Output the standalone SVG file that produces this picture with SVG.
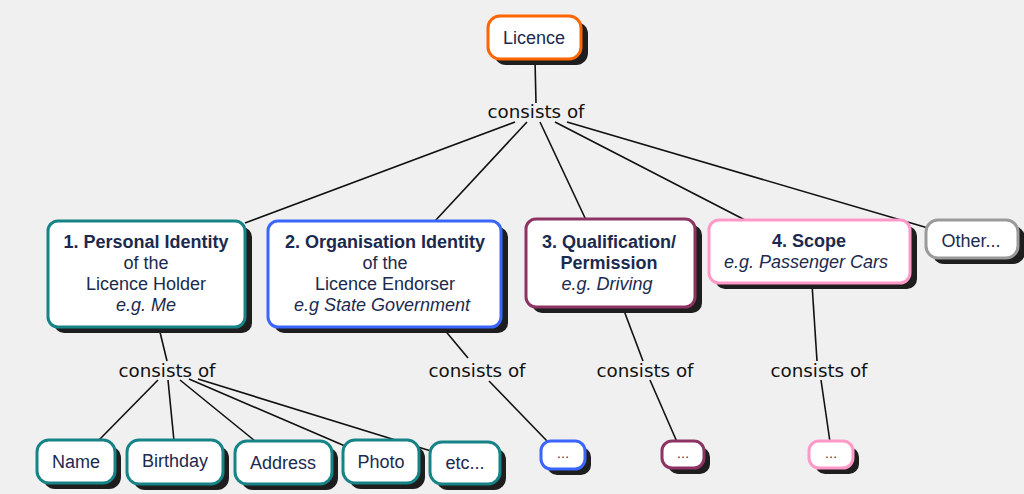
<svg xmlns="http://www.w3.org/2000/svg" width="1024" height="494" viewBox="0 0 1024 494">
<style>
.bg{fill:#f0f0f0}
.sh{fill:#1e1e1e}
.box{fill:#ffffff;stroke-width:3}
.t{font-family:"Liberation Sans",Arial,sans-serif;font-size:18px;fill:#1b2a4e;text-anchor:middle}
.b{font-weight:bold}
.i{font-style:italic}
.lab{font-family:"DejaVu Sans",Verdana,sans-serif;font-size:18.3px;fill:#111;text-anchor:middle}
.ln{stroke:#111;stroke-width:1.6;fill:none}
.dots{font-family:"Liberation Sans",Arial,sans-serif;font-size:13px;fill:#1b2a4e;text-anchor:middle}
</style>
<rect class="bg" x="0" y="0" width="1024" height="494"/>
<g id="connectors">
<line class="ln" x1="535" y1="60" x2="536" y2="103"/>
<line class="ln" x1="515" y1="122" x2="245" y2="223"/>
<line class="ln" x1="527" y1="122" x2="435" y2="221"/>
<line class="ln" x1="540" y1="122" x2="586" y2="220"/>
<line class="ln" x1="555" y1="122" x2="745" y2="220"/>
<line class="ln" x1="567" y1="122" x2="928" y2="228"/>
<line class="ln" x1="159" y1="328" x2="167" y2="361"/>
<line class="ln" x1="158" y1="380" x2="98" y2="441"/>
<line class="ln" x1="168" y1="380" x2="174" y2="441"/>
<line class="ln" x1="180" y1="380" x2="255" y2="441"/>
<line class="ln" x1="189" y1="379" x2="345" y2="446"/>
<line class="ln" x1="198" y1="379" x2="431" y2="451"/>
<line class="ln" x1="443" y1="328" x2="468" y2="358"/>
<line class="ln" x1="489" y1="381" x2="548" y2="442"/>
<line class="ln" x1="623" y1="308" x2="643" y2="361"/>
<line class="ln" x1="650" y1="380" x2="677" y2="442"/>
<line class="ln" x1="812" y1="284" x2="817" y2="361"/>
<line class="ln" x1="821" y1="380" x2="830" y2="442"/>
<text class="lab" x="536" y="118">consists of</text>
<text class="lab" x="167" y="377">consists of</text>
<text class="lab" x="477" y="377">consists of</text>
<text class="lab" x="645" y="377">consists of</text>
<text class="lab" x="819" y="377">consists of</text>
</g>
<g id="licence">
<rect class="sh" x="494" y="22" width="94" height="43" rx="12"/>
<rect class="box" x="488" y="16" width="93" height="43" rx="12" stroke="#ff6600"/>
<text class="t" x="534" y="44">Licence</text>
</g>
<g id="personal">
<rect class="sh" x="54" y="227" width="198" height="106" rx="10"/>
<rect class="box" x="48" y="221" width="197" height="106" rx="10" stroke="#178387"/>
<text class="t b" x="146" y="248">1. Personal Identity</text>
<text class="t" x="146" y="269">of the</text>
<text class="t" x="146" y="290">Licence Holder</text>
<text class="t i" x="146" y="311">e.g. Me</text>
</g>
<g id="organisation">
<rect class="sh" x="274" y="227" width="234" height="106" rx="10"/>
<rect class="box" x="268" y="221" width="233" height="106" rx="10" stroke="#3a66ff"/>
<text class="t b" x="385" y="248">2. Organisation Identity</text>
<text class="t" x="385" y="269">of the</text>
<text class="t" x="385" y="290">Licence Endorser</text>
<text class="t i" x="382" y="311">e.g State Government</text>
</g>
<g id="qualification">
<rect class="sh" x="532" y="225" width="170" height="88" rx="10"/>
<rect class="box" x="526" y="219" width="169" height="88" rx="10" stroke="#8e3465"/>
<text class="t b" x="609" y="248">3. Qualification/</text>
<text class="t b" x="609" y="269">Permission</text>
<text class="t i" x="607" y="290">e.g. Driving</text>
</g>
<g id="scope">
<rect class="sh" x="715" y="226" width="202" height="63" rx="10"/>
<rect class="box" x="709" y="220" width="201" height="63" rx="10" stroke="#ff99c8"/>
<text class="t b" x="809" y="247">4. Scope</text>
<text class="t i" x="806" y="268">e.g. Passenger Cars</text>
</g>
<g id="other">
<rect class="sh" x="932" y="226" width="93" height="38" rx="12"/>
<rect class="box" x="926" y="220" width="92" height="38" rx="12" stroke="#9a9a9a"/>
<text class="t" x="971" y="247">Other...</text>
</g>
<g id="name">
<rect class="sh" x="43" y="446" width="78" height="43" rx="12"/>
<rect class="box" x="37" y="440" width="78" height="43" rx="12" stroke="#178387"/>
<text class="t" x="76" y="468">Name</text>
</g>
<g id="birthday">
<rect class="sh" x="133" y="446" width="96" height="44" rx="12"/>
<rect class="box" x="127" y="440" width="96" height="44" rx="12" stroke="#178387"/>
<text class="t" x="175" y="467">Birthday</text>
</g>
<g id="address">
<rect class="sh" x="241" y="447" width="97" height="43" rx="12"/>
<rect class="box" x="235" y="441" width="97" height="43" rx="12" stroke="#178387"/>
<text class="t" x="283" y="469">Address</text>
</g>
<g id="photo">
<rect class="sh" x="349" y="446" width="76" height="43" rx="12"/>
<rect class="box" x="343" y="440" width="76" height="43" rx="12" stroke="#178387"/>
<text class="t" x="381" y="468">Photo</text>
</g>
<g id="etc">
<rect class="sh" x="436" y="448" width="70" height="42" rx="12"/>
<rect class="box" x="430" y="442" width="70" height="42" rx="12" stroke="#178387"/>
<text class="t" x="465" y="469">etc...</text>
</g>
<g id="more2">
<rect class="sh" x="547" y="447" width="44" height="28" rx="10"/>
<rect class="box" x="541" y="441" width="44" height="28" rx="10" stroke="#3a66ff"/>
<text class="dots" x="563" y="458">…</text>
</g>
<g id="more3">
<rect class="sh" x="668" y="447" width="42" height="27" rx="10"/>
<rect class="box" x="662" y="441" width="42" height="27" rx="10" stroke="#8e3465"/>
<text class="dots" x="683" y="458">…</text>
</g>
<g id="more4">
<rect class="sh" x="815" y="447" width="44" height="27" rx="10"/>
<rect class="box" x="809" y="441" width="44" height="27" rx="10" stroke="#ff99c8"/>
<text class="dots" x="831" y="458">…</text>
</g>
</svg>
